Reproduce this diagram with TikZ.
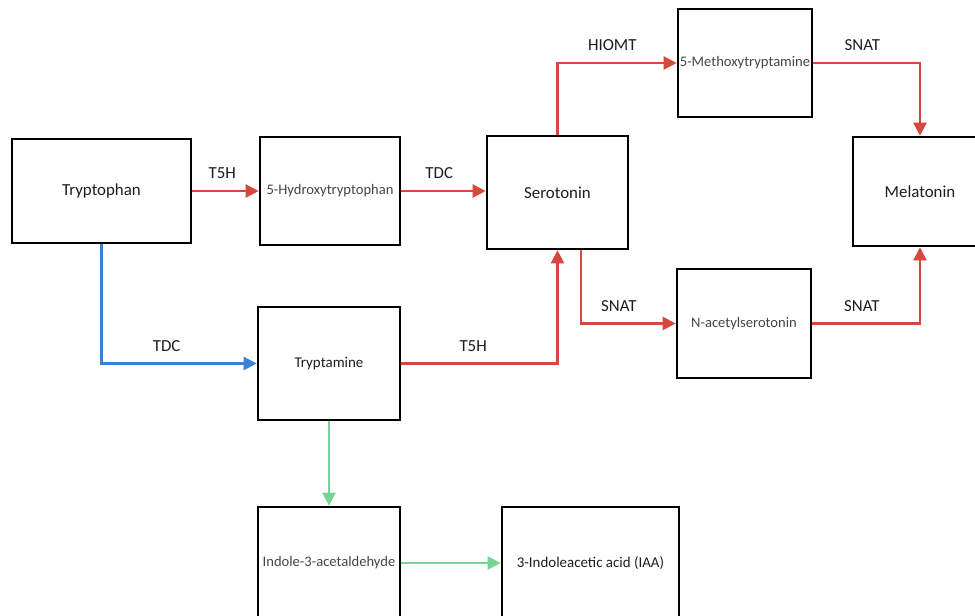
\documentclass[tikz,border=0pt]{standalone}
\usepackage{fontspec}
\setmainfont{Carlito}
\usetikzlibrary{arrows.meta}
\definecolor{redarr}{RGB}{214,72,62}
\definecolor{bluearr}{RGB}{58,128,214}
\definecolor{greenarr}{RGB}{118,212,148}
\definecolor{txtmain}{RGB}{30,30,30}
\definecolor{txtsub}{RGB}{70,70,70}
\begin{document}
\begin{tikzpicture}[x=0.02cm,y=-0.02cm,
  box/.style={draw=black, line width=1.5pt, inner sep=0pt, align=center},
  mainlbl/.style={font=\fontsize{9.6pt}{11pt}\selectfont, text=txtmain},
  midlbl/.style={font=\fontsize{8.5pt}{10pt}\selectfont, text=txtmain},
  sublbl/.style={font=\fontsize{8.3pt}{10pt}\selectfont, text=txtsub},
  enz/.style={font=\fontsize{9.6pt}{11pt}\selectfont, text=txtmain, above=3pt},
  conn/.style={line width=1.3pt, -{Triangle[length=7.5pt,width=7.5pt]}},
  redc/.style={conn, draw=redarr},
  bluec/.style={conn, draw=bluearr},
  greenc/.style={conn, draw=greenarr}]
\useasboundingbox (0,0) rectangle (975,616);
\clip (0,0) rectangle (975,616);
\fill[white] (0,0) rectangle (975,616);
% boxes
\node[box, mainlbl, minimum width=3.58cm, minimum height=2.08cm] (tryp) at (101.5,191) {Tryptophan};
\node[box, sublbl, minimum width=2.80cm, minimum height=2.16cm] (hydr) at (330,191) {5-Hydroxytryptophan};
\node[box, mainlbl, minimum width=2.82cm, minimum height=2.26cm] (sero) at (557.5,192.5) {Serotonin};
\node[box, sublbl, minimum width=2.68cm, minimum height=2.16cm] (meth) at (745,63) {5-Methoxytryptamine};
\node[box, mainlbl, minimum width=2.68cm, minimum height=2.18cm] (mela) at (920,191.5) {Melatonin};
\node[box, sublbl, minimum width=2.68cm, minimum height=2.18cm] (nace) at (744,323.5) {N-acetylserotonin};
\node[box, midlbl, minimum width=2.84cm, minimum height=2.26cm] (tamn) at (329,363.5) {Tryptamine};
\node[box, sublbl, minimum width=2.84cm, minimum height=2.24cm] (indo) at (329,563) {Indole-3-acetaldehyde};
\node[box, midlbl, minimum width=3.54cm, minimum height=2.24cm] (iaa) at (590.5,563) {3-Indoleacetic acid (IAA)};
% connectors
\draw[redc] (tryp.east) -- node[enz, pos=0.45] (l1) {T5H} (hydr.west);
\draw[redc] (hydr.east) -- node[enz, pos=0.45] (l2) {TDC} (hydr.east -| sero.west);
\draw[redc] (sero.north) |- node[enz, pos=0.73] (l3) {HIOMT} (meth.west);
\draw[redc] (meth.east) -| node[enz, pos=0.23] (l4) {SNAT} (mela.north);
\draw[redc] ([xshift=0.47cm]sero.south) |- node[enz, pos=0.7] (l5) {SNAT} (nace.west);
\draw[redc] (nace.east) -| node[enz, pos=0.23] (l6) {SNAT} (mela.south);
\draw[redc] (tamn.east) -| node[enz, pos=0.23] (l7) {T5H} (sero.south);
\draw[bluec] (tryp.south) |- node[enz, pos=0.71] (l8) {TDC} (tamn.west);
\draw[greenc] (tamn.south) -- (indo.north);
\draw[greenc] (indo.east) -- (iaa.west);
\end{tikzpicture}
\end{document}
